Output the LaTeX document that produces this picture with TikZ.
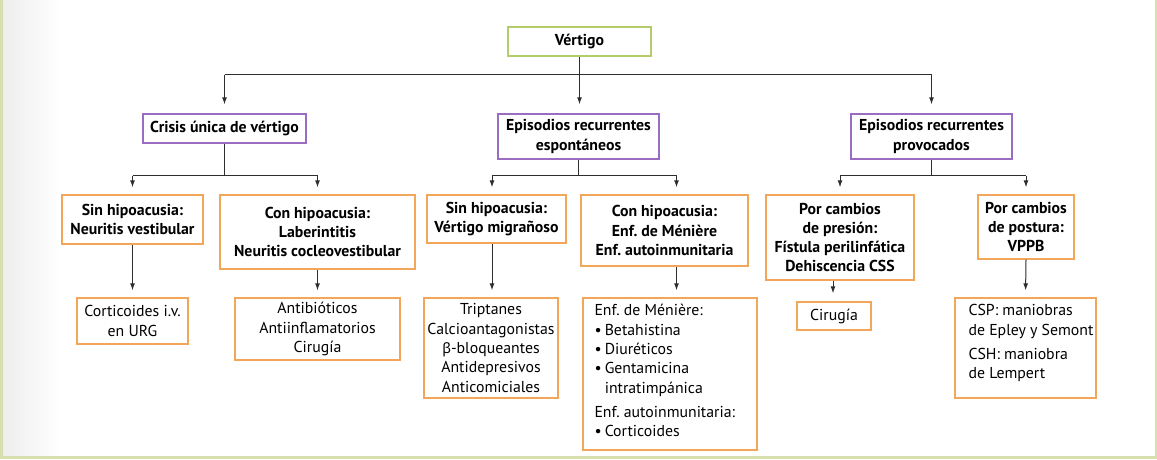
\documentclass[tikz,border=0pt]{standalone}
\usepackage{fontspec}
\setmainfont{PT Sans}
\newfontfamily\gk[Scale=0.9]{Noto Sans}
\usetikzlibrary{arrows.meta,calc}
\definecolor{purp}{HTML}{9B6DC2}
\definecolor{oran}{HTML}{F2A65A}
\definecolor{grn}{HTML}{B5CC6A}
\definecolor{framec}{HTML}{D5E0AE}
\definecolor{ln}{HTML}{2E2E2E}
\frenchspacing
\begin{document}
\begin{tikzpicture}[x=1pt,y=-1pt,
  txt/.style={font=\fontsize{15.8}{19.3}\selectfont},
  btxt/.style={font=\bfseries\fontsize{15.8}{19.3}\selectfont},
  box/.style={draw, line width=1.4pt, inner sep=0pt, align=center},
  gbox/.style={box, btxt, draw=grn},
  pbox/.style={box, btxt, draw=purp},
  obox/.style={box, btxt, draw=oran},
  rbox/.style={box, txt, draw=oran},
  conn/.style={draw=ln, line width=1pt},
  arr/.style={conn, -{Latex[length=7pt,width=5pt]}, shorten >=7pt},
  arrA/.style={arr, shorten >=9pt},
  lt/.style={txt, anchor=north west, align=left, inner sep=0pt}
]
\useasboundingbox (0,0) rectangle (1157,459);
\fill[white] (0,0) rectangle (1157,459);
\shade[left color=black!7, right color=white] (2.5,0) rectangle (60,456);
\fill[framec] (0,0) rectangle (2.5,459);
\fill[framec] (0,456) rectangle (1157,459);
\fill[framec] (1154.5,0) rectangle (1157,459);

% level 0
\node[gbox, minimum width=143pt, minimum height=29pt] (vert) at (579.5,41.5) {Vértigo};
% level 1
\node[pbox, minimum width=163pt, minimum height=29pt] (crisis) at (224.5,128.5) {Crisis única de vértigo};
\node[pbox, minimum width=161pt, minimum height=45pt] (esp) at (578.5,136.5) {Episodios recurrentes\\espontáneos};
\node[pbox, minimum width=161pt, minimum height=45pt] (prov) at (931.5,136.5) {Episodios recurrentes\\provocados};
% level 2
\node[obox, minimum width=141pt, minimum height=49pt] (sin1) at (132.5,219.5) {Sin hipoacusia:\\Neuritis vestibular};
\node[obox, minimum width=195pt, minimum height=74pt] (con1) at (317.5,232) {Con hipoacusia:\\Laberintitis\\Neuritis cocleovestibular};
\node[obox, minimum width=139pt, minimum height=48pt] (sin2) at (496.5,219) {Sin hipoacusia:\\Vértigo migrañoso};
\node[obox, minimum width=167pt, minimum height=71pt] (con2) at (664.5,230.5) {Con hipoacusia:\\Enf. de Ménière\\Enf. autoinmunitaria};
\node[obox, minimum width=148pt, minimum height=85pt] (pres) at (840,237.5) {Por cambios\\de presión:\\Fístula perilinfática\\Dehiscencia CSS};
\node[obox, minimum width=96pt, minimum height=64pt] (post) at (1026,227) {Por cambios\\de postura:\\VPPB};
% level 3
\node[rbox, minimum width=111pt, minimum height=46pt] (cort) at (132.5,321) {Corticoides i.v.\\en URG};
\node[rbox, minimum width=165pt, minimum height=62pt] (anti) at (317.5,329) {Antibióticos\\Antiinflamatorios\\Cirugía};
\node[rbox, minimum width=134pt, minimum height=100pt] (trip) at (491,348) {Triptanes\\Calcioantagonistas\\{\gk β}-bloqueantes\\Antidepresivos\\Anticomiciales};
\node[rbox, minimum width=174pt, minimum height=152pt] (men) at (670,374) {};
\node[rbox, minimum width=74pt, minimum height=28pt] (cir) at (834,316) {Cirugía};
\node[rbox, minimum width=141pt, minimum height=100pt] (csp) at (1025.5,348) {};

\node[lt] (mentxt) at ($(men.north west)+(12,7)$) {Enf. de Ménière:\\
\makebox[0.65em][l]{•}Betahistina\\
\makebox[0.65em][l]{•}Diuréticos\\
\makebox[0.65em][l]{•}Gentamicina\\
\hspace*{0.65em}intratimpánica\\[5pt]
Enf. autoinmunitaria:\\
\makebox[0.65em][l]{•}Corticoides};
\node[lt] (csptxt) at ($(csp.north west)+(14,7)$) {CSP: maniobras\\de Epley y Semont\\[5pt]CSH: maniobra\\de Lempert};

% connectors level 0 -> 1
\coordinate (j0) at ($(vert.south)+(0,18)$);
\draw[conn] (vert.south) -- (j0);
\draw[conn] (j0 -| crisis.north) -- (j0 -| prov.north);
\draw[arrA] (j0 -| crisis.north) -- (crisis.north);
\draw[arrA] (j0) -- (j0 |- esp.north);
\draw[arrA] (j0 -| prov.north) -- (prov.north);

% level 1 -> 2
\coordinate (j1) at ($(crisis.south)+(0,32)$);
\draw[conn] (crisis.south) -- (j1);
\draw[conn] (j1 -| sin1.north) -- (j1 -| con1.north);
\draw[arr] (j1 -| sin1.north) -- (sin1.north);
\draw[arr] (j1 -| con1.north) -- (con1.north);

\coordinate (a2) at ($(sin2.south)+(-4.5,0)$);
\coordinate (a3) at ($(con2.south)+(12,0)$);
\coordinate (a4) at ($(pres.south)+(-7,0)$);

\coordinate (j2) at ($(esp.south)+(0,16)$);
\draw[conn] (esp.south) -- (j2);
\draw[conn] (j2 -| a2) -- (j2 -| a3);
\draw[arr] (j2 -| a2) -- (a2 |- sin2.north);
\draw[arr] (j2 -| a3) -- (a3 |- con2.north);

\coordinate (j3) at ($(prov.south)+(0,16)$);
\draw[conn] (prov.south) -- (j3);
\draw[conn] (j3 -| pres.north) -- (j3 -| post.north);
\draw[arr] (j3 -| pres.north) -- (pres.north);
\draw[arr] (j3 -| post.north) -- (post.north);

% level 2 -> 3
\draw[arr] (sin1.south) -- (cort.north);
\draw[arr] (con1.south) -- (anti.north);
\draw[arr] (a2) -- (a2 |- trip.north);
\draw[arr] (a3) -- (a3 |- men.north);
\draw[arr, shorten >=8pt] (a4) -- (a4 |- cir.north);
\draw[arr] (post.south) -- (csp.north);
\end{tikzpicture}
\end{document}
